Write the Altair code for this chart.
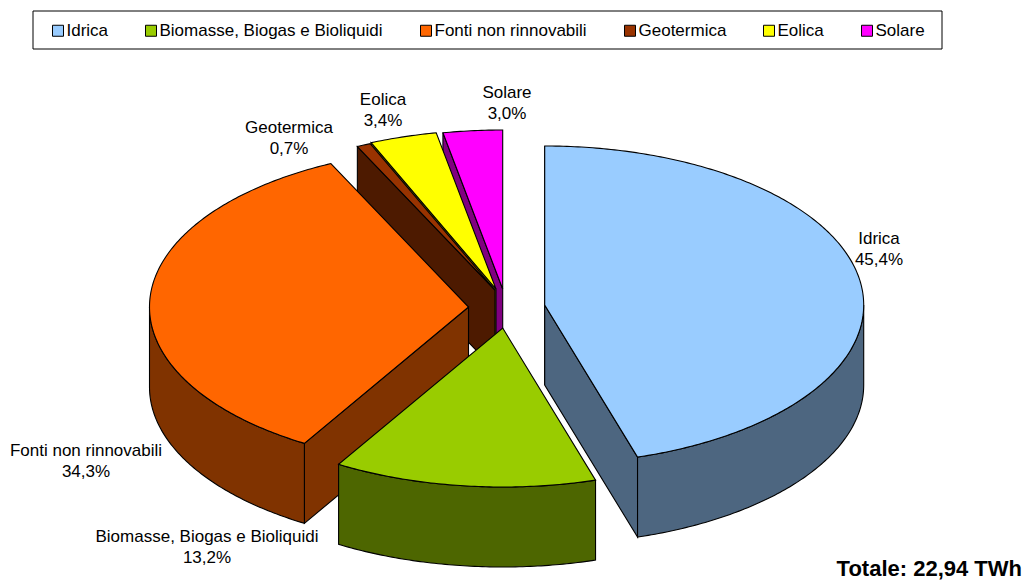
import numpy as np
import pandas as pd
import altair as alt

# ---- values ----
names = ["Idrica", "Biomasse, Biogas e Bioliquidi", "Fonti non rinnovabili", "Geotermica", "Eolica", "Solare"]
shares = [45.3, 13.3, 34.3, 0.7, 3.4, 3.0]
share_labels = ["45,4%", "13,2%", "34,3%", "0,7%", "3,4%", "3,0%"]
top_colors = ["#99CCFF", "#99CC00", "#FF6600", "#993300", "#FFFF00", "#FF00FF"]
side_colors = ["#4D6680", "#4D6600", "#803300", "#4D1A00", "#808000", "#800080"]
total_text = "Totale: 22,94 TWh"

# ---- layout of the exploded, tilted pie (page pixels) ----
RX, RY, DEPTH = 319.0, 159.0, 80.0
apex_x = [544.7, 502.7, 468.5, 495.0, 496.0, 502.7]
apex_y = [305.0, 328.0, 307.0, 290.0, 289.0, 289.0]
label_x = [879, 207, 86, 289, 383, 507]
label_y = [239, 537, 451, 128, 100, 93]
draw_order = [5, 4, 3, 2, 0, 1]

ends = np.cumsum(shares) * 3.6
ends[-1] = 360.0
starts = np.concatenate([[0.0], ends[:-1]])


def rim(i, a):
    r = np.radians(a)
    return apex_x[i] + RX * np.sin(r), apex_y[i] - RY * np.cos(r)


def arc(i, a, b):
    n = max(2, int(abs(b - a) * 1.5) + 2)
    return [rim(i, t) for t in np.linspace(a, b, n)]


rows = []


def add(poly, fill):
    pid = len(set(r["pid"] for r in rows))
    for k, (x, y) in enumerate(poly):
        rows.append({"pid": f"p{pid:03d}", "k": k, "x": float(x), "y": float(y), "fill": fill})


for i in draw_order:
    a, b = starts[i], ends[i]
    ax, ay = apex_x[i], apex_y[i]
    # radial cut faces that look towards the viewer
    if -np.sin(np.radians(a)) >= -1e-9:
        px, py = rim(i, a)
        add([(ax, ay), (px, py), (px, py + DEPTH), (ax, ay + DEPTH)], side_colors[i])
    if np.sin(np.radians(b)) > 1e-9:
        px, py = rim(i, b)
        add([(ax, ay), (px, py), (px, py + DEPTH), (ax, ay + DEPTH)], side_colors[i])
    # outer wall
    lo, hi = max(a, 90.0), min(b, 270.0)
    if hi > lo:
        front = arc(i, lo, hi)
        add(front + [(x, y + DEPTH) for x, y in reversed(front)], side_colors[i])
    # top face
    add([(ax, ay)] + arc(i, a, b), top_colors[i])

polys = pd.DataFrame(rows)
labels = pd.DataFrame({
    "text": [f"{n}\n{s}" for n, s in zip(names, share_labels)],
    "x": label_x, "y": label_y,
})
legend_df = pd.DataFrame({"name": names, "x": apex_x, "y": apex_y})

X = alt.Scale(domain=[8, 1023], nice=False, zero=False)
Y = alt.Scale(domain=[580, 8], nice=False, zero=False)
FONT = "Liberation Sans"

frame = alt.Chart(pd.DataFrame({"x": [33], "x2": [942], "y": [11], "y2": [49]})).mark_rect(
    fill="white", stroke="black", strokeWidth=1
).encode(
    x=alt.X("x:Q", scale=X, axis=None), x2="x2:Q",
    y=alt.Y("y:Q", scale=Y, axis=None), y2="y2:Q",
)

legend_layer = alt.Chart(legend_df).mark_point(filled=True, size=0).encode(
    x=alt.X("x:Q", scale=X, axis=None),
    y=alt.Y("y:Q", scale=Y, axis=None),
    color=alt.Color("name:N", scale=alt.Scale(domain=names, range=top_colors), legend=alt.Legend(
        orient="none", legendX=41.5, legendY=14, direction="horizontal", columns=6, title=None,
        symbolType="square", symbolSize=121, symbolStrokeColor="#000000", symbolStrokeWidth=1,
        symbolOpacity=1, labelFont=FONT, labelFontSize=17, labelColor="#000000", labelLimit=400,
        columnPadding=34, labelOffset=0, padding=0,
    )),
)

shapes = alt.Chart(polys).mark_line(
    interpolate="linear-closed", stroke="black", strokeWidth=1.1, strokeJoin="miter"
).encode(
    x=alt.X("x:Q", scale=X, axis=None),
    y=alt.Y("y:Q", scale=Y, axis=None),
    fill=alt.Fill("fill:N", scale=None),
    detail="pid:N",
    order="k:Q",
)

texts = alt.Chart(labels).mark_text(
    font=FONT, fontSize=17, color="#000000", lineBreak="\n", lineHeight=21, align="center", baseline="middle"
).encode(
    x=alt.X("x:Q", scale=X, axis=None),
    y=alt.Y("y:Q", scale=Y, axis=None),
    text="text:N",
)

total = alt.Chart(pd.DataFrame({"t": [total_text], "x": [1022], "y": [576]})).mark_text(
    font=FONT, fontSize=22, fontWeight="bold", color="#000000", align="right", baseline="alphabetic"
).encode(
    x=alt.X("x:Q", scale=X, axis=None),
    y=alt.Y("y:Q", scale=Y, axis=None),
    text="t:N",
)

chart = alt.layer(frame, legend_layer, shapes, texts, total).properties(
    width=1015, height=572, padding=0, autosize=alt.AutoSizeParams(type="none"),
    background="white",
).configure_view(stroke=None)

chart.save("out.html", embed_options={"renderer": "svg", "actions": False})
